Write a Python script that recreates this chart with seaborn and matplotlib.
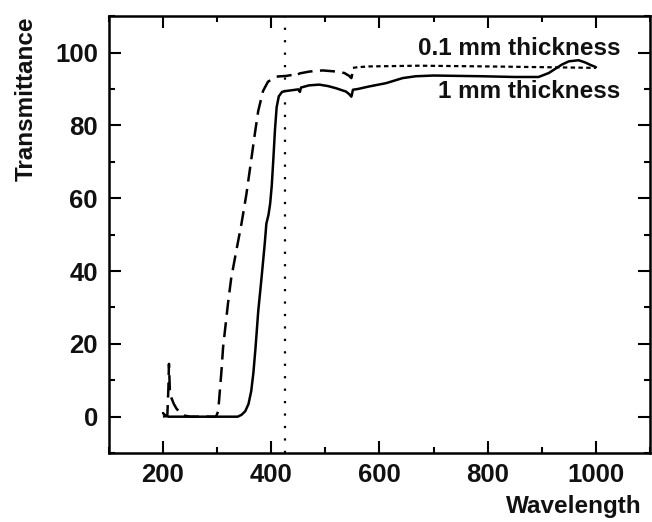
import numpy as np
import pandas as pd
import seaborn as sns
import matplotlib.pyplot as plt
from matplotlib.ticker import MultipleLocator

# 1 mm thickness (solid)
wl_1mm = [200, 205, 210, 300, 338, 345, 352, 358, 363, 367, 371, 376, 382, 388, 391,
          395, 398, 401, 404, 407, 410, 414, 420, 425, 440, 450, 453, 455, 470, 489,
          505, 520, 538, 544, 548, 549, 551, 560, 581, 612, 643, 667, 700, 790, 850,
          894, 913, 937, 950, 968, 980, 990, 1000]
t_1mm = [1.0, 0.2, 0, 0, 0, 0.5, 1.5, 3.5, 7, 12, 19, 29, 38, 47.5, 53,
         55.5, 58.5, 63.5, 71, 79, 85, 88, 89.2, 89.4, 89.7, 89.9, 89.2, 90.4, 91, 91.2,
         90.8, 90.2, 89.3, 88.6, 87.9, 88.4, 89.8, 90, 90.7, 91.6, 93, 93.5, 93.7, 93.5, 93.3,
         93.3, 94.4, 96.7, 97.6, 97.9, 97.3, 96.6, 96]

# 0.1 mm thickness (dashed)
wl_01 = [200, 208, 210, 211, 213, 216, 220, 225, 232, 240, 250, 298, 302, 305, 308,
         311, 320, 326, 336, 345, 354, 363, 370, 376, 385, 394, 409, 428, 440, 446,
         449, 453, 471, 495, 520, 535, 544, 548, 549, 551, 560, 581, 673, 800, 900, 1000]
t_01 = [0, 0.3, 8, 14.5, 6, 5, 3.5, 2.2, 1, 0.3, 0, 0, 1.5, 7, 12.5,
        19, 31, 38, 46, 53, 61, 70.5, 78, 84, 89.5, 92, 93.4, 93.6, 93.9, 93.5,
        94, 94.3, 94.8, 95.1, 94.8, 94.4, 93.6, 93, 93.5, 95.8, 96, 96.2, 96.4, 96.2, 96, 95.8]

cutoff = 425

sns.set_style('ticks')
plt.rcParams['font.family'] = ['Liberation Sans', 'DejaVu Sans']
plt.rcParams['font.weight'] = 'bold'
plt.rcParams['font.size'] = 17.5
plt.rcParams['axes.labelweight'] = 'bold'
for k in ['text.color', 'axes.labelcolor', 'xtick.color', 'ytick.color']:
    plt.rcParams[k] = '#111111'

fig, ax = plt.subplots(figsize=(6.52, 5.22), dpi=100)
fig.subplots_adjust(left=0.167, right=0.997, top=0.969, bottom=0.132)

thick = pd.DataFrame({'wl': wl_1mm, 'T': t_1mm})
thin = pd.DataFrame({'wl': wl_01, 'T': t_01})
uv = thin[thin.wl <= 551]
vis = thin[thin.wl >= 551]

sns.lineplot(data=thick, x='wl', y='T', color='black', lw=1.8,
             estimator=None, sort=False, ax=ax)
sns.lineplot(data=uv, x='wl', y='T', color='black', lw=1.8, linestyle=(0, (6, 3)),
             estimator=None, sort=False, ax=ax)
sns.lineplot(data=vis, x='wl', y='T', color='black', lw=1.6, linestyle=(0, (2, 1.5)),
             estimator=None, sort=False, ax=ax)
ax.axvline(cutoff, color='black', lw=1.6, linestyle=(0, (1, 4.6)))

ax.set_xlim(100, 1100)
ax.set_ylim(-10, 110)
ax.xaxis.set_major_locator(MultipleLocator(200))
ax.xaxis.set_minor_locator(MultipleLocator(100))
ax.yaxis.set_major_locator(MultipleLocator(20))
ax.yaxis.set_minor_locator(MultipleLocator(10))
ax.tick_params(which='both', direction='in', top=True, right=True, width=1.5, color='black',
               labelsize=18.5)
ax.tick_params(which='major', length=8.5)
ax.tick_params(which='minor', length=4.5)
ax.tick_params(axis='x', pad=7)
ax.tick_params(axis='y', pad=8)
for s in ax.spines.values():
    s.set_linewidth(1.8)
    s.set_color('black')

ax.text(1045, 101, '0.1 mm thickness', ha='right', va='center')
ax.text(1045, 89.4, '1 mm thickness', ha='right', va='center')

ax.set_xlabel('Wavelength', loc='right')
ax.xaxis.set_label_coords(0.985, -0.097)
ax.set_ylabel('Transmittance', loc='top')
ax.yaxis.set_label_coords(-0.131, 1.0)

fig.savefig('out.png', dpi=100, facecolor='white')
